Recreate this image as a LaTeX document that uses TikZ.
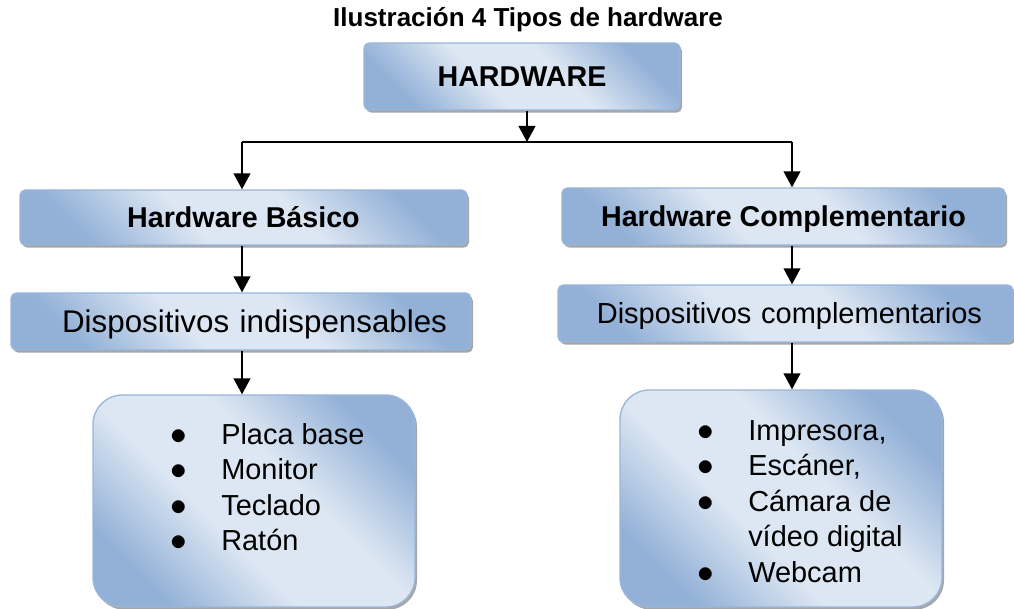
\documentclass[tikz,border=0pt]{standalone}
\usepackage{fontspec}
\setmainfont{Liberation Sans}
\usetikzlibrary{positioning, calc, arrows.meta, shadows}

\definecolor{boxlight}{HTML}{DDE7F3}
\definecolor{boxdark}{HTML}{93B1D7}
\definecolor{boxline}{HTML}{9AB6DA}

\pgfdeclareverticalshading{hwshade}{100bp}{color(0bp)=(boxdark); color(25bp)=(boxdark);
    color(42bp)=(boxlight); color(58bp)=(boxlight); color(75bp)=(boxdark); color(100bp)=(boxdark)}

\tikzset{
        hw-box/.style={
            rectangle, rounded corners=4pt, draw=boxline, line width=1pt,
            shading=hwshade, shading angle=-45,
            drop shadow={shadow xshift=1.5pt, shadow yshift=-2pt, fill=black!50, opacity=.7},
            inner sep=0pt, text depth=0pt
        },
        hw-list/.style={hw-box, rounded corners=22pt},
        hw-head/.style={font=\fontsize{21.5pt}{25pt}\selectfont\bfseries, text height=15.5pt},
        hw-items/.style={anchor=north west, inner sep=0pt, font=\fontsize{21.7pt}{26.6pt}\selectfont},
        hw-line/.style={line width=1.5pt},
        hw-arrow/.style={hw-line, -{Triangle[length=12pt, width=12.5pt]}},
}
\newcommand{\hwbullet}{{\fontsize{27pt}{27pt}\selectfont$\bullet$}}

\begin{document}
\begin{tikzpicture}[x=0.75pt, y=-0.75pt]
        \useasboundingbox (0,0) rectangle (1014,609);

        % DRAW NODES
        \node[font=\fontsize{19.5pt}{22pt}\selectfont\bfseries] (TITLE) at (528,20) {Ilustración 4 Tipos de hardware};
        \node[hw-box, hw-head, minimum width=237pt, minimum height=50.25pt]      (HW)   at (522,76.5)    {HARDWARE};
        \node[hw-box, hw-head, minimum width=335.25pt, minimum height=41.25pt]   (HWB)  at (243.5,217.5) {Hardware Básico};
        \node[hw-box, hw-head, minimum width=332.25pt, minimum height=42.75pt]   (HWC)  at (783.5,216.5) {Hardware Complementario};
        \node[hw-box, font=\fontsize{23.5pt}{27pt}\selectfont, text height=17pt, minimum width=345pt, minimum height=42.75pt,
              text width=309pt, inner xsep=18pt, align=right]                    (DEVB) at (241,321.5)   {Dispositivos indispensables};
        \node[hw-box, font=\fontsize{21.75pt}{25pt}\selectfont, text height=15.7pt, minimum width=341.25pt, minimum height=42.75pt,
              text width=294.75pt, inner xsep=23.25pt, align=right]              (DEVC) at (785.5,313.5) {Dispositivos complementarios};
        \node[hw-list, minimum width=241.5pt, minimum height=159pt]              (LISTB) at (254,501)    {};
        \node[hw-list, minimum width=241.5pt, minimum height=162.75pt]           (LISTC) at (781,498.5)  {};

        % LIST ITEMS
        \node[hw-items] (ITEMSB) at ($(LISTB.north west)+(78,25)$) {%
            \begin{tabular}{@{}p{38pt}@{}l@{}}
                \hwbullet & Placa base\\
                \hwbullet & Monitor\\
                \hwbullet & Teclado\\
                \hwbullet & Ratón
            \end{tabular}};
        \node[hw-items] (ITEMSC) at ($(LISTC.north west)+(78,26)$) {%
            \begin{tabular}{@{}p{38pt}@{}l@{}}
                \hwbullet & Impresora,\\
                \hwbullet & Escáner,\\
                \hwbullet & Cámara de\\
                          & vídeo digital\\
                \hwbullet & Webcam
            \end{tabular}};

        % SPLIT POINTS
        \coordinate (SPLIT) at (527,142);
        \coordinate (LEFT)  at (242,142);
        \coordinate (RIGHT) at (792,142);

        % CONNECT TOP LEVEL
        \draw [hw-arrow] (HW.south -| SPLIT) -- (SPLIT);
        \draw [hw-line]  (LEFT) -- (RIGHT);
        \draw [hw-arrow] (LEFT) -- (LEFT |- HWB.north);
        \draw [hw-arrow] (RIGHT) -- (RIGHT |- HWC.north);

        % CONNECT DEVICES
        \draw [hw-arrow] (HWB.south -| LEFT) -- (LEFT |- DEVB.north);
        \draw [hw-arrow] (HWC.south -| RIGHT) -- (RIGHT |- DEVC.north);

        % CONNECT LISTS
        \draw [hw-arrow] (DEVB.south -| LEFT) -- (LEFT |- LISTB.north);
        \draw [hw-arrow] (DEVC.south -| RIGHT) -- (RIGHT |- LISTC.north);

\end{tikzpicture}
\end{document}
